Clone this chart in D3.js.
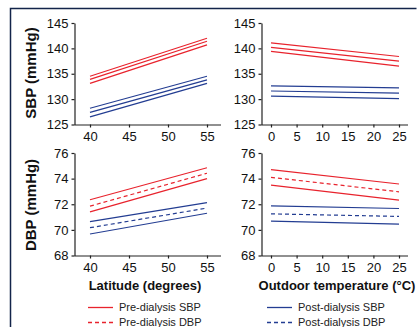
<!DOCTYPE html>
<html><head><meta charset="utf-8">
<script src="https://cdn.jsdelivr.net/npm/d3@7"></script>
<style>body{margin:0;background:#fff}svg{display:block}text{font-family:"Liberation Sans",Arial,sans-serif}</style>
</head><body><svg id="c" width="417" height="327"></svg>
<script>
// Data: [x0, x1] endpoints, values [upper, mean, lower] at each end
const latitude = [40, 55];
const temperature = [0, 25];
const latTicks = [40, 45, 50, 55];
const tempTicks = [0, 5, 10, 15, 20, 25];
const sbpTicks = [125, 130, 135, 140, 145];
const dbpTicks = [68, 70, 72, 74, 76];

const sbpLatPre  = {upper:[134.5, 142.0], mean:[133.9, 141.4], lower:[133.1, 140.7]};
const sbpLatPost = {upper:[128.2, 134.5], mean:[127.4, 133.8], lower:[126.5, 133.1]};
const sbpTempPre  = {upper:[141.1, 138.4], mean:[140.2, 137.5], lower:[139.4, 136.5]};
const sbpTempPost = {upper:[132.6, 132.2], mean:[131.6, 131.2], lower:[130.6, 130.1]};
const dbpLatPre  = {upper:[72.35, 74.85], mean:[71.85, 74.42], lower:[71.4, 74.0]};
const dbpLatPost = {upper:[70.65, 72.12], mean:[70.17, 71.7], lower:[69.68, 71.3]};
const dbpTempPre  = {upper:[74.7, 73.58], mean:[74.1, 72.97], lower:[73.5, 72.32]};
const dbpTempPost = {upper:[71.88, 71.67], mean:[71.25, 71.05], lower:[70.69, 70.45]};

const RED = "#e8232d", BLUE = "#233d92";
const svg = d3.select("#c");

// frame
svg.append("path").attr("d","M10.5,330 V8.5 H416.5").attr("fill","none").attr("stroke","#13244a").attr("stroke-width",1.5);

function panel(opts){
  const x = d3.scaleLinear().domain(opts.xDomain).range(opts.xRange);
  const y = d3.scaleLinear().domain(opts.yDomain).range(opts.yRange);
  const g = svg.append("g");
  const xa = g.append("g").attr("transform",`translate(0,${opts.yRange[0]})`)
    .call(d3.axisBottom(x).tickValues(opts.xTicks).tickSize(3).tickSizeOuter(0).tickPadding(4));
  xa.select(".domain").attr("d",`M${opts.axisLeft},0.5H${opts.axisRight}`);
  const ya = g.append("g").attr("transform",`translate(${opts.axisLeft},0)`)
    .call(d3.axisLeft(y).tickValues(opts.yTicks).tickSize(3).tickSizeOuter(0).tickPadding(3));
  [xa, ya].forEach(a=>{
    a.selectAll("text").attr("font-size",13).attr("fill","#111").attr("font-family","Liberation Sans, Arial, sans-serif");
    a.selectAll("line,path").attr("stroke","#222").attr("stroke-width",1.2);
  });
  const line = d3.line().x(d=>x(d[0])).y(d=>y(d[1]));
  opts.series.forEach(s=>{
    ["upper","mean","lower"].forEach(k=>{
      const pts = opts.xDomainPts.map((xv,i)=>[xv, s.data[k][i]]);
      g.append("path").attr("d", line(pts)).attr("fill","none")
        .attr("stroke", s.color).attr("stroke-width",1.2)
        .attr("stroke-dasharray", (k==="mean" && opts.dashMean) ? "4,3" : null);
    });
  });
}

panel({xDomain:[40,55], xRange:[90,207], xDomainPts:latitude, xTicks:latTicks, yDomain:[125,145], yRange:[124.5,23], yTicks:sbpTicks,
  axisLeft:74.5, axisRight:221, dashMean:false, series:[{data:sbpLatPre,color:RED},{data:sbpLatPost,color:BLUE}]});
panel({xDomain:[0,25], xRange:[271,399], xDomainPts:temperature, xTicks:tempTicks, yDomain:[125,145], yRange:[124.5,23], yTicks:sbpTicks,
  axisLeft:261.5, axisRight:408, dashMean:false, series:[{data:sbpTempPre,color:RED},{data:sbpTempPost,color:BLUE}]});
panel({xDomain:[40,55], xRange:[90,207], xDomainPts:latitude, xTicks:latTicks, yDomain:[68,76], yRange:[255.5,153], yTicks:dbpTicks,
  axisLeft:74.5, axisRight:221, dashMean:true, series:[{data:dbpLatPre,color:RED},{data:dbpLatPost,color:BLUE}]});
panel({xDomain:[0,25], xRange:[271,399], xDomainPts:temperature, xTicks:tempTicks, yDomain:[68,76], yRange:[255.5,153], yTicks:dbpTicks,
  axisLeft:261.5, axisRight:408, dashMean:true, series:[{data:dbpTempPre,color:RED},{data:dbpTempPost,color:BLUE}]});

// axis titles
svg.append("text").attr("transform","translate(36,73) rotate(-90)").attr("text-anchor","middle")
  .attr("font-size",15).attr("font-weight","bold").attr("fill","#111").text("SBP (mmHg)");
svg.append("text").attr("transform","translate(36,205) rotate(-90)").attr("text-anchor","middle")
  .attr("font-size",15).attr("font-weight","bold").attr("fill","#111").text("DBP (mmHg)");
svg.append("text").attr("x",145).attr("y",290).attr("text-anchor","middle")
  .attr("font-size",13).attr("font-weight","bold").attr("fill","#111").text("Latitude (degrees)");
svg.append("text").attr("x",337).attr("y",290).attr("text-anchor","middle")
  .attr("font-size",13).attr("font-weight","bold").attr("fill","#111").text("Outdoor temperature (°C)");

// legend
const legendLabels = ["Pre-dialysis SBP","Pre-dialysis DBP","Post-dialysis SBP","Post-dialysis DBP"];
const legendColors = [RED, RED, BLUE, BLUE];
const legendDash = [null, "4,3", null, "4,3"];
legendLabels.forEach((lab,i)=>{
  const col = i<2 ? 0 : 1, row = i%2;
  const lx = col===0 ? 88 : 267, ly = 307 + row*15;
  svg.append("line").attr("x1",lx).attr("x2",lx+25).attr("y1",ly+0.5).attr("y2",ly+0.5)
    .attr("stroke",legendColors[i]).attr("stroke-width",1.3).attr("stroke-dasharray",legendDash[i]);
  svg.append("text").attr("x",lx+31).attr("y",ly+4).attr("font-size",11).attr("fill","#222").text(lab);
});
</script></body></html>
